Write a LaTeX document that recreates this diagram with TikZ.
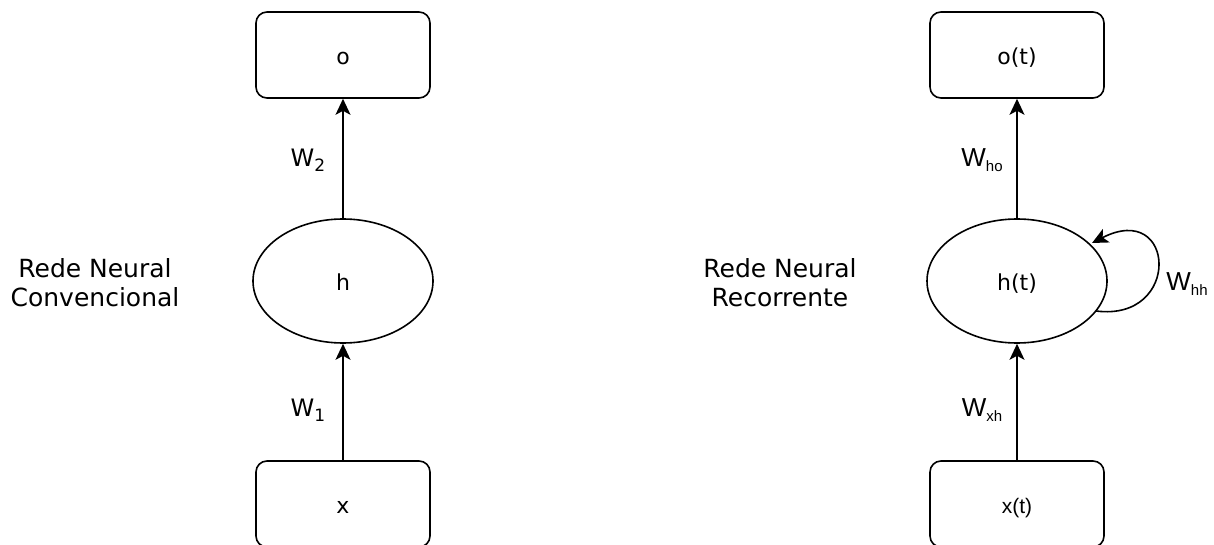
\documentclass[tikz,border=0pt]{standalone}
\usepackage{fontspec}
\setmainfont{DejaVu Sans}
\newfontfamily\arial{Liberation Sans}
\usetikzlibrary{shapes.geometric,arrows.meta}
\newcommand{\subs}[1]{\raisebox{-0.35ex}{\fontsize{15}{18}\selectfont #1}}
\begin{document}
\begin{tikzpicture}[x=1pt,y=-1pt,
  box/.style={draw,line width=1.6pt,rounded corners=11pt,minimum width=174pt,minimum height=86pt,inner sep=0pt,text height=19pt,text depth=0pt,font=\fontsize{22}{26}\selectfont},
  ell/.style={draw,line width=1.6pt,ellipse,minimum width=180pt,minimum height=124pt,inner sep=0pt,text height=19pt,text depth=0pt,font=\fontsize{22}{26}\selectfont},
  conn/.style={line width=1.6pt,-{Stealth[length=16pt,width=15pt,inset=4pt]}},
  lbl/.style={font=\fontsize{24}{28}\selectfont},
  albl/.style={font=\arial\fontsize{26}{30}\selectfont},
  side/.style={align=center,font=\fontsize{25}{29}\selectfont}]
\useasboundingbox (0,0) rectangle (1214,545);
% left
\node[box] (o1) at (343,55) {o};
\node[ell] (h1) at (343,281) {h};
\node[box] (x1) at (343,504) {x};
\draw[conn] (x1) -- (h1);
\draw[conn] (h1) -- (o1);
\node[lbl] (w2) at (308,160) {W\raisebox{-0.35ex}{\fontsize{17}{20}\selectfont 2}};
\node[lbl] (w1) at (308,410) {W\raisebox{-0.35ex}{\fontsize{17}{20}\selectfont 1}};
\node[side] (t1) at (95,283) {Rede Neural\\Convencional};
% right
\node[box] (o2) at (1017,55) {o(t)};
\node[ell] (h2) at (1017,281) {h(t)};
\node[box,font=\arial\fontsize{21}{25}\selectfont] (x2) at (1017,504) {x(t)};
\draw[conn] (x2) -- (h2);
\draw[conn] (h2) -- (o2);
\coordinate (ls) at (1096,311);
\coordinate (le) at (1092,243);
\draw[conn] (ls) .. controls (1182,322) and (1176,200) .. (le);
\node[albl] (whh) at (1187,284) {W\subs{hh}};
\node[albl] (who) at (982,160) {W\subs{ho}};
\node[albl] (wxh) at (982,410) {W\subs{xh}};
\node[side] (t2) at (780,283) {Rede Neural\\Recorrente};
\end{tikzpicture}
\end{document}
